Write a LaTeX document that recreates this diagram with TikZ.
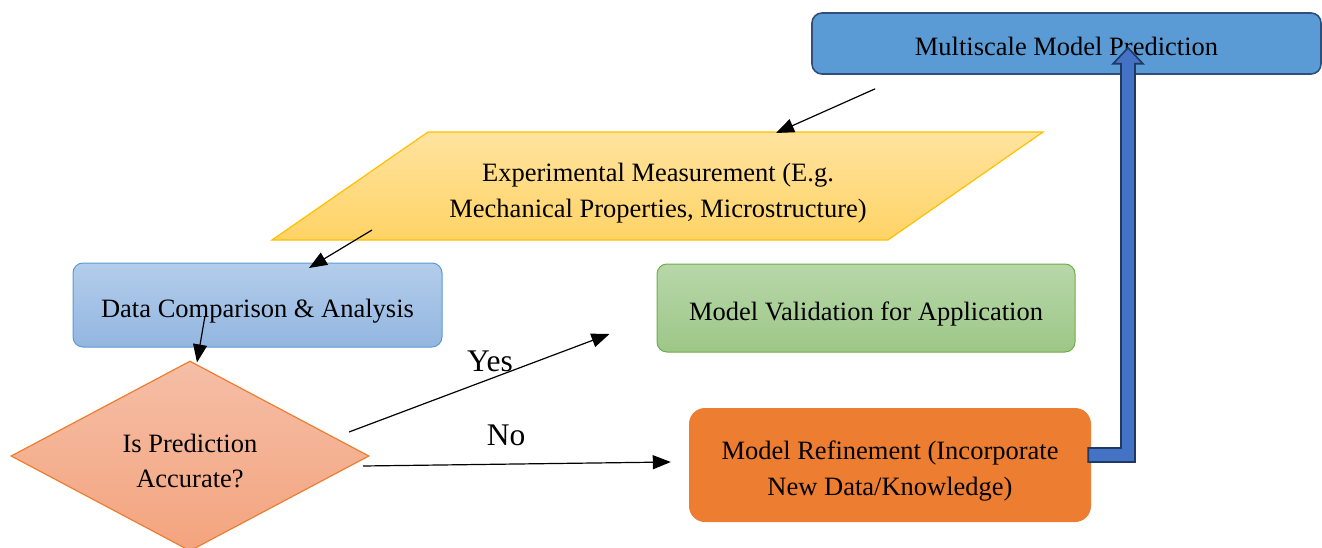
\documentclass[tikz,border=0pt]{standalone}
\usepackage{fontspec}
\setmainfont{Liberation Serif}
\usetikzlibrary{shapes.geometric,arrows.meta,calc}
\definecolor{mmfill}{HTML}{5B9BD5}
\definecolor{mmdraw}{HTML}{2F4F7A}
\definecolor{dcatop}{HTML}{B3CDEB}
\definecolor{dcabot}{HTML}{93B6E0}
\definecolor{dcadraw}{HTML}{5B9BD5}
\definecolor{emtop}{HTML}{FFE39F}
\definecolor{embot}{HTML}{FFD365}
\definecolor{emdraw}{HTML}{FFC000}
\definecolor{valtop}{HTML}{B7D7A9}
\definecolor{valbot}{HTML}{9DC787}
\definecolor{valdraw}{HTML}{70AD47}
\definecolor{dectop}{HTML}{F5BEA6}
\definecolor{decbot}{HTML}{F4A47E}
\definecolor{decdraw}{HTML}{ED7D31}
\definecolor{reffill}{HTML}{ED7D31}
\definecolor{bafill}{HTML}{4472C4}
\definecolor{badraw}{HTML}{1F3864}
\begin{document}
\begin{tikzpicture}[x=1pt,y=-1pt,
  txt/.style={font=\fontsize{26.5}{35.5}\selectfont, align=center, text=black, inner sep=0pt},
  box/.style={rounded corners=10pt, inner sep=0pt},
  lbl/.style={font=\fontsize{31.5}{36}\selectfont, text=black, inner sep=0pt},
  arr/.style={-{Triangle[length=18pt,width=14pt]}, line width=1.2pt, black},
  blockarrow/.style={fill=bafill, draw=badraw, line width=1.6pt, line join=miter}]
\useasboundingbox (0,0) rectangle (1322,548);

% Multiscale Model Prediction
\node[box, fill=mmfill, draw=mmdraw, line width=1.6pt, minimum width=509pt, minimum height=61pt] (mm) at (1066.5,43.5) {};
\node[txt] (mmtext) at ($(mm.center)+(0,3)$) {Multiscale Model Prediction};

% Experimental measurement parallelogram
\coordinate (emc) at (658,186);
\path[top color=emtop, bottom color=embot, draw=emdraw, line width=1.2pt]
  ($(emc)+(-230,-54)$) -- ($(emc)+(385,-54)$) -- ($(emc)+(230,54)$) -- ($(emc)+(-386,54)$) -- cycle;
\node[txt] (em) at ($(emc)+(0,7)$) {Experimental Measurement (E.g.\\Mechanical Properties, Microstructure)};

% Data comparison
\node[box, top color=dcatop, bottom color=dcabot, draw=dcadraw, line width=1pt, minimum width=369pt, minimum height=84pt] (dca) at (257.5,305) {};
\node[txt] (dcatext) at ($(dca.center)+(0,6)$) {Data Comparison \& Analysis};

% Model validation
\node[box, top color=valtop, bottom color=valbot, draw=valdraw, line width=1pt, minimum width=418pt, minimum height=88pt] (val) at (866,308) {};
\node[txt] (valtext) at ($(val.center)+(0,6)$) {Model Validation for Application};

% Decision diamond
\node[diamond, inner sep=0pt, minimum width=358pt, minimum height=190pt, top color=dectop, bottom color=decbot, draw=decdraw, line width=1.2pt] (dec) at (190,456) {};
\node[txt] (dectext) at ($(dec.center)+(0,5)$) {Is Prediction\\Accurate?};

% Model refinement
\node[box, rounded corners=16pt, fill=reffill, minimum width=402pt, minimum height=114pt] (ref) at (890,465) {};
\node[txt] (reftext) at ($(ref.center)+(0,6)$) {Model Refinement (Incorporate\\New Data/Knowledge)};

% connectors
\draw[arr] ($(mm.south west)+(64,14)$) -- ($(emc)+(118,-53)$);
\draw[arr] ($(emc)+(-286,44)$) -- ($(dca.center)+(51.5,-37)$);
\draw[arr] ($(dca.center)+(-52.5,11)$) -- ($(dec.north)+(7,2)$);
\draw[arr] ($(dec.center)+(159,-24)$) -- ($(val.west)+(-47,26)$);
\draw[arr] ($(dec.center)+(173,10)$) -- ($(ref.west)+(-18,-3)$);

\node[lbl] (yes) at (490,361) {Yes};
\node[lbl] (no) at (506,435) {No};

% block arrow from refinement back to prediction
\coordinate (bstart) at ($(ref.east)+(-3,-10)$);
\coordinate (btip) at ($(mm.south)+(61.5,-27)$);
\draw[blockarrow] ($(bstart)+(0,-7)$) -- ($(btip |- bstart)+(-7,-7)$) -- ($(btip)+(-7,16)$) -- ($(btip)+(-15,16)$) -- (btip) -- ($(btip)+(15,16)$) -- ($(btip)+(7,16)$) -- ($(btip |- bstart)+(7,7)$) -- ($(bstart)+(0,7)$) -- cycle;
\end{tikzpicture}
\end{document}
